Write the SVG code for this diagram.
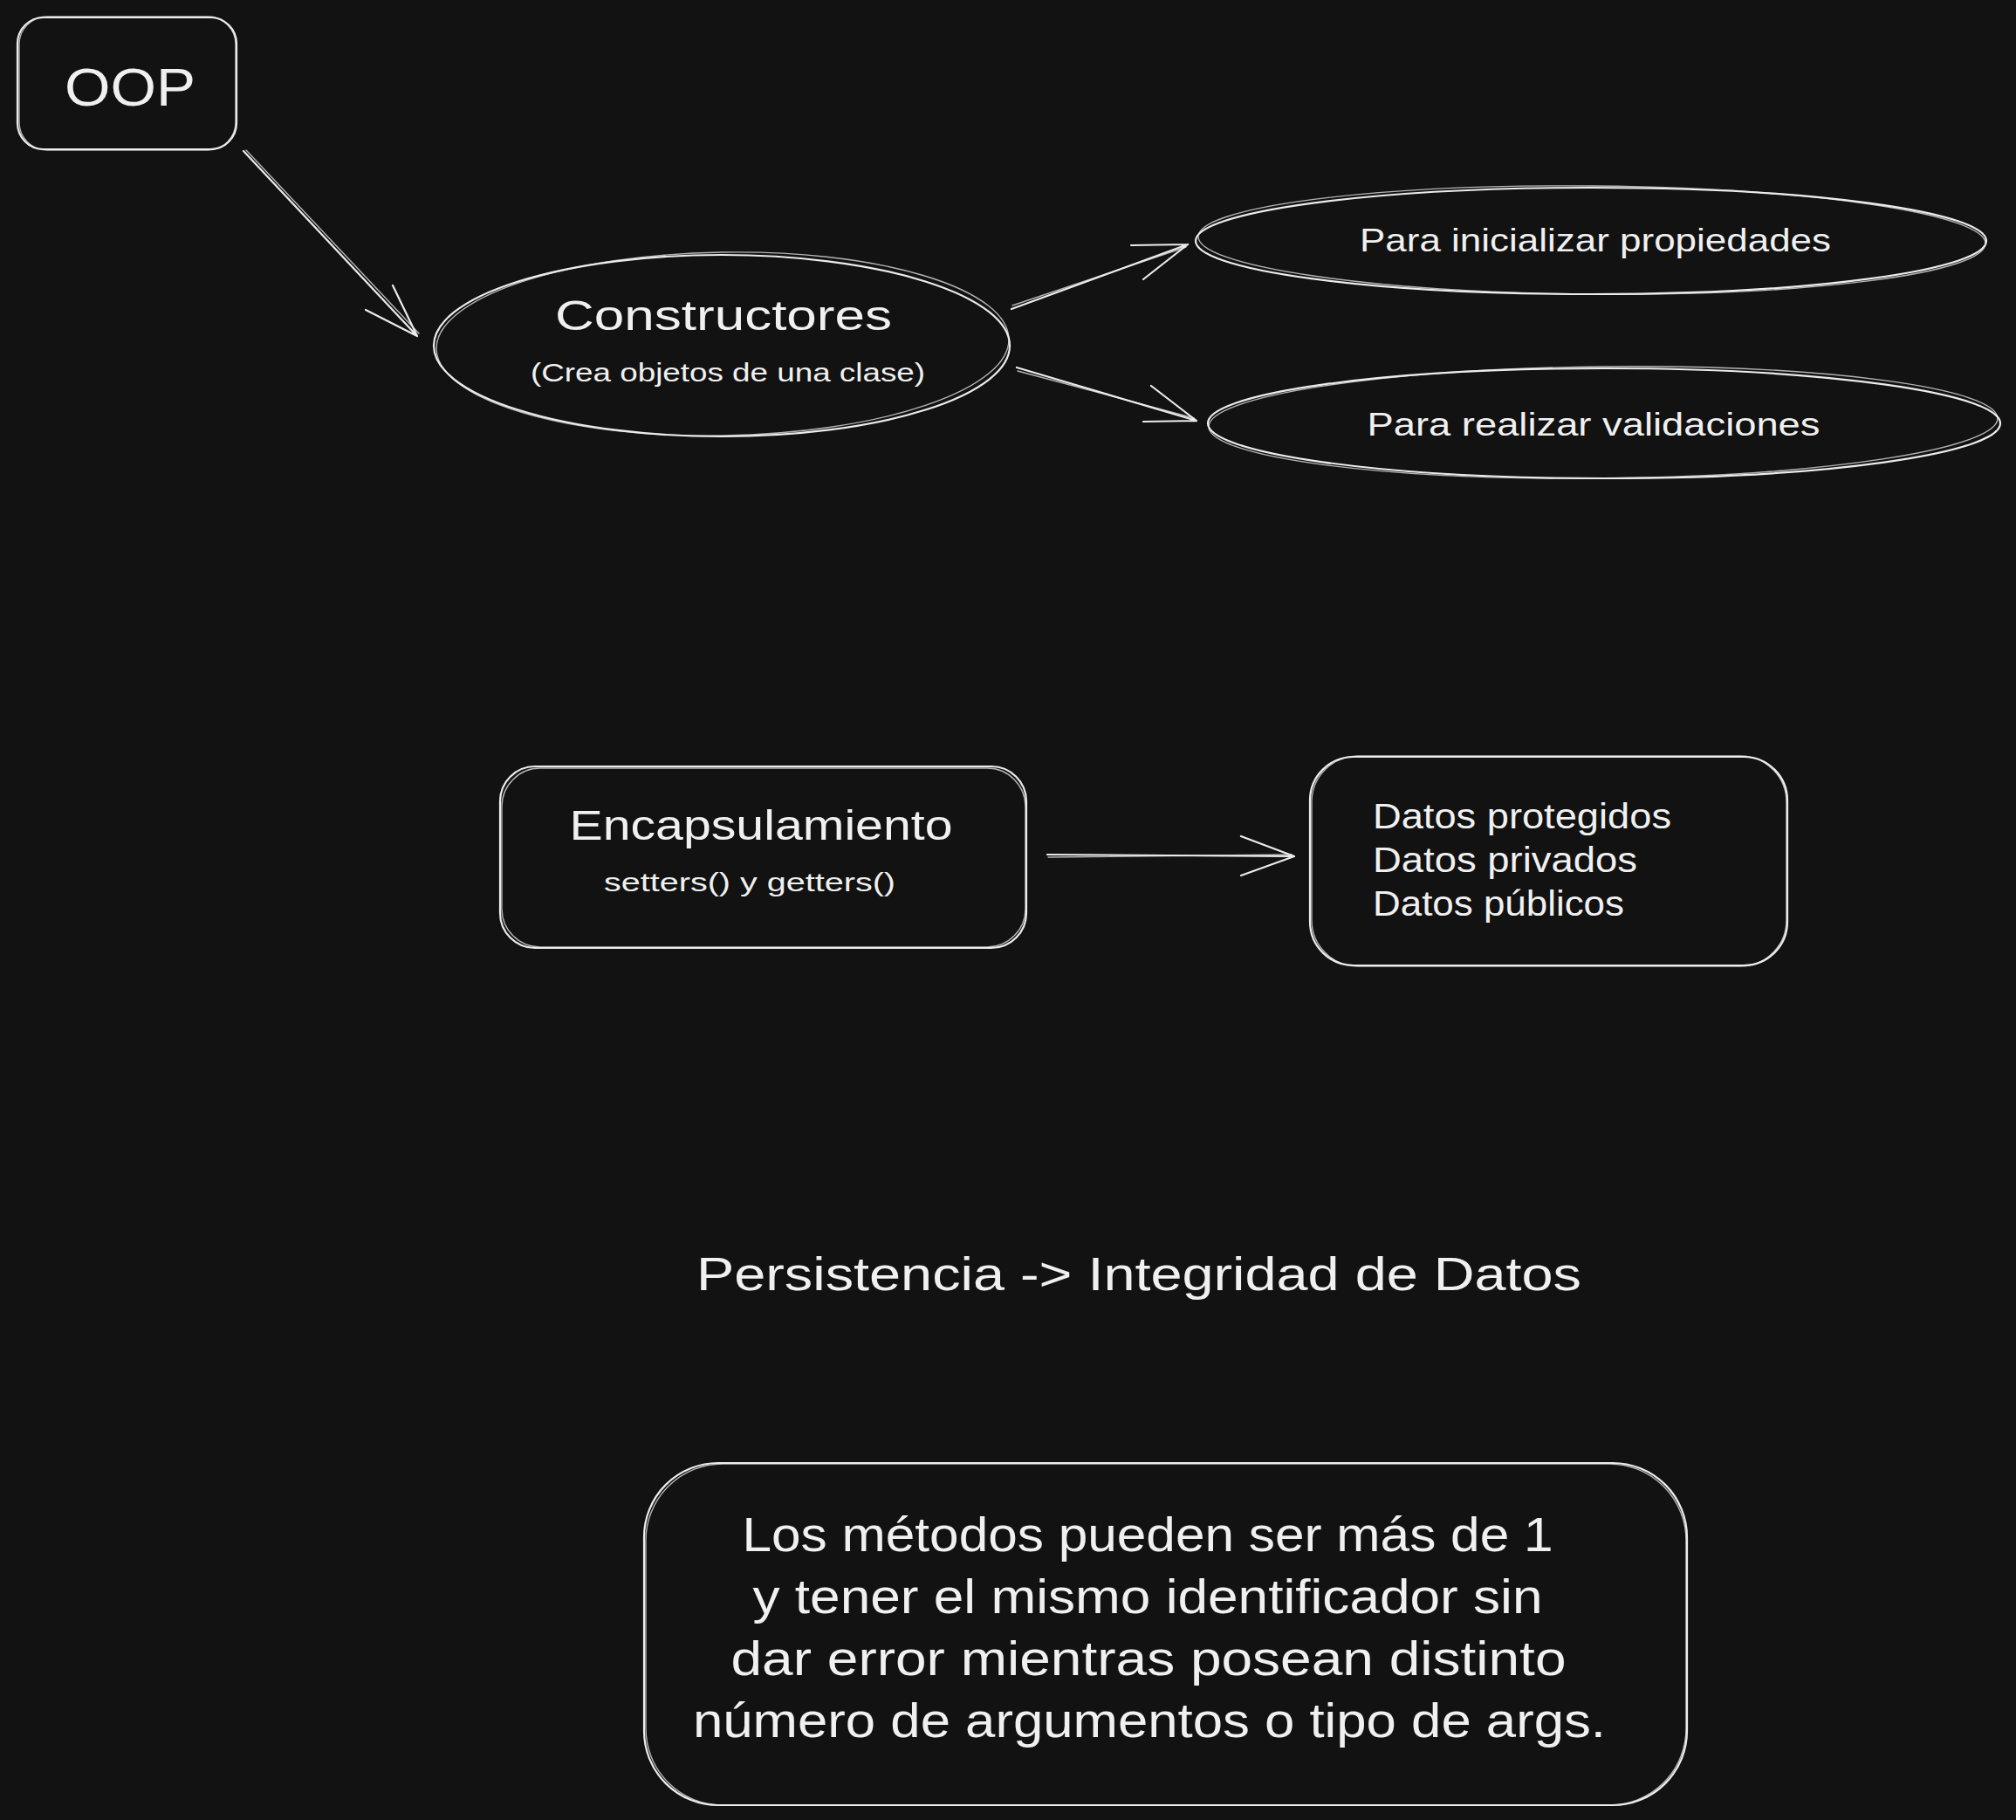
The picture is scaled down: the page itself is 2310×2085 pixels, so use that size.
<svg xmlns="http://www.w3.org/2000/svg" width="2310" height="2085" viewBox="0 0 2310 2085">
<style>
.s{fill:none;stroke:#ececec;stroke-width:2.2;stroke-linecap:round;stroke-linejoin:round}
.s2{fill:none;stroke:#ececec;stroke-width:1.4;stroke-linecap:round;opacity:0.75}
.t{font-family:"Liberation Sans",Arial,sans-serif;fill:#f0f0f0}
.c{text-anchor:middle}
</style>
<rect x="0" y="0" width="2310" height="2085" fill="#121212"/>
<g id="connectors">
  <path class="s" d="M279 173 L478 385 M419 355 L478 385 L450 327"/>
  <path class="s2" d="M282 172 L480 382"/>
  <path class="s" d="M1159 354 L1361 280 M1296 281 L1361 280 L1310 320"/>
  <path class="s2" d="M1160 350 L1359 283"/>
  <path class="s" d="M1165 421 L1371 482 M1319 442 L1371 482 L1310 483"/>
  <path class="s2" d="M1166 425 L1368 479"/>
  <path class="s" d="M1200 979 L1483 981 M1422 958 L1483 981 L1422 1003"/>
  <path class="s2" d="M1201 982 L1480 979"/>
</g>
<g id="node-oop">
  <rect class="s" x="20" y="20" width="251" height="151" rx="30"/>
  <rect class="s2" x="22" y="19" width="248" height="153" rx="32"/>
  <text class="t c" x="149" y="121" font-size="62" textLength="150" lengthAdjust="spacingAndGlyphs">OOP</text>
</g>
<g id="node-constructores">
  <ellipse class="s" cx="827" cy="396" rx="330" ry="104"/>
  <ellipse class="s2" cx="828" cy="394" rx="328" ry="105" transform="rotate(-1 828 394)"/>
  <text class="t c" x="829" y="378" font-size="48" textLength="386" lengthAdjust="spacingAndGlyphs">Constructores</text>
  <text class="t c" x="834" y="437" font-size="30" textLength="452" lengthAdjust="spacingAndGlyphs">(Crea objetos de una clase)</text>
</g>
<g id="node-inicializar">
  <ellipse class="s" cx="1823" cy="276" rx="453" ry="61"/>
  <ellipse class="s2" cx="1824" cy="275" rx="451" ry="62" transform="rotate(0.5 1824 275)"/>
  <text class="t c" x="1828" y="288" font-size="36" textLength="540" lengthAdjust="spacingAndGlyphs">Para inicializar propiedades</text>
</g>
<g id="node-validaciones">
  <ellipse class="s" cx="1838" cy="485" rx="454" ry="63"/>
  <ellipse class="s2" cx="1837" cy="484" rx="452" ry="64" transform="rotate(-0.6 1837 484)"/>
  <text class="t c" x="1826" y="499" font-size="36" textLength="519" lengthAdjust="spacingAndGlyphs">Para realizar validaciones</text>
</g>
<g id="node-encapsulamiento">
  <rect class="s" x="573" y="878" width="603" height="208" rx="40"/>
  <rect class="s2" x="575" y="880" width="600" height="205" rx="44"/>
  <text class="t c" x="872" y="962" font-size="48" textLength="439" lengthAdjust="spacingAndGlyphs">Encapsulamiento</text>
  <text class="t c" x="859" y="1021" font-size="30" textLength="334" lengthAdjust="spacingAndGlyphs">setters() y getters()</text>
</g>
<g id="node-datos">
  <rect class="s" x="1501" y="867" width="547" height="239" rx="50"/>
  <rect class="s2" x="1503" y="866" width="544" height="241" rx="53"/>
  <text class="t" x="1573" y="949" font-size="40" textLength="342" lengthAdjust="spacingAndGlyphs">Datos protegidos</text>
  <text class="t" x="1573" y="999" font-size="40" textLength="303" lengthAdjust="spacingAndGlyphs">Datos privados</text>
  <text class="t" x="1573" y="1049" font-size="40" textLength="288" lengthAdjust="spacingAndGlyphs">Datos públicos</text>
</g>
<g id="node-persistencia">
  <text class="t c" x="1305" y="1478" font-size="54" textLength="1014" lengthAdjust="spacingAndGlyphs">Persistencia -&gt; Integridad de Datos</text>
</g>
<g id="node-metodos">
  <rect class="s" x="738" y="1676" width="1195" height="392" rx="85"/>
  <rect class="s2" x="740" y="1677" width="1192" height="391" rx="88"/>
  <text class="t c" x="1315" y="1777" font-size="56" textLength="929" lengthAdjust="spacingAndGlyphs">Los métodos pueden ser más de 1</text>
  <text class="t c" x="1315" y="1848" font-size="56" textLength="905" lengthAdjust="spacingAndGlyphs">y tener el mismo identificador sin</text>
  <text class="t c" x="1316" y="1919" font-size="56" textLength="957" lengthAdjust="spacingAndGlyphs">dar error mientras posean distinto</text>
  <text class="t c" x="1317" y="1990" font-size="56" textLength="1046" lengthAdjust="spacingAndGlyphs">número de argumentos o tipo de args.</text>
</g>
</svg>
